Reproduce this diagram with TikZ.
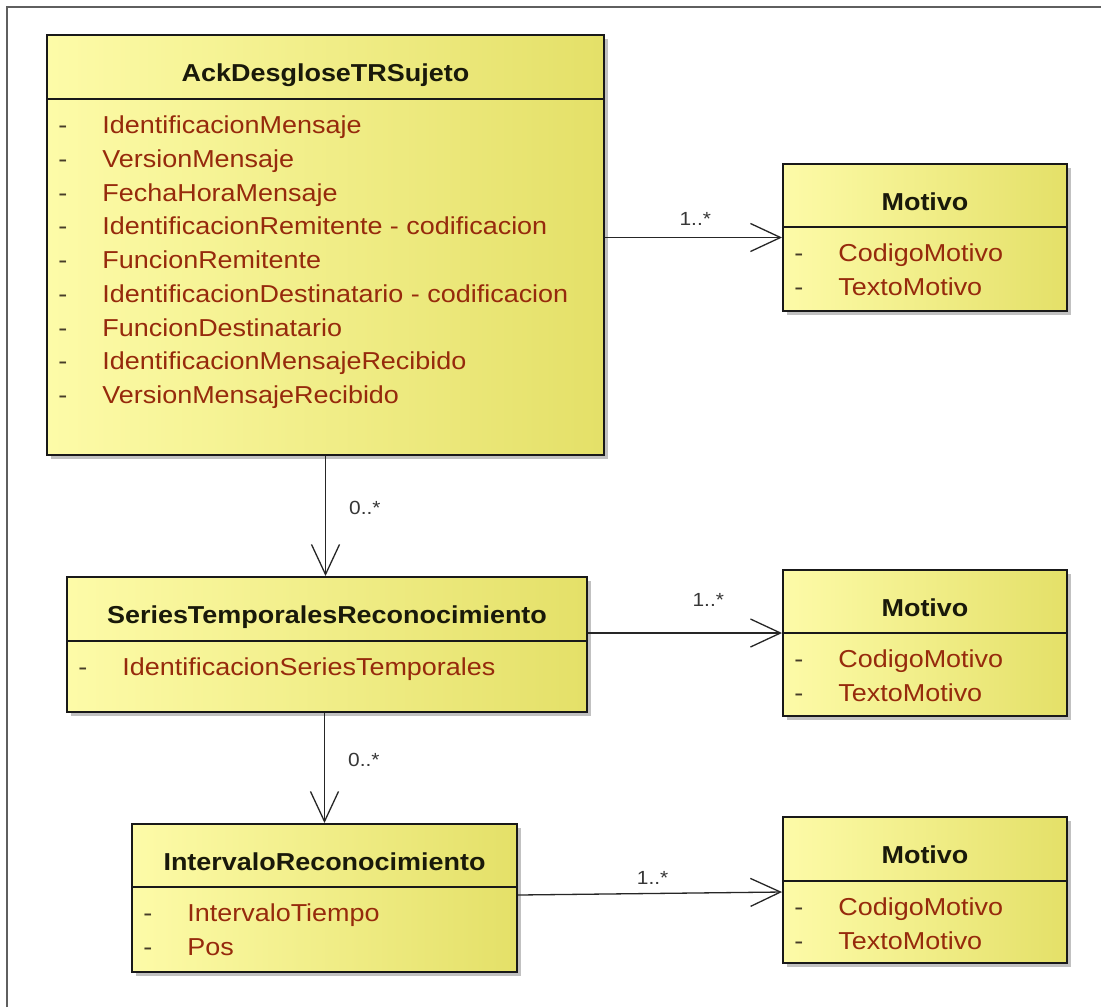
\documentclass[tikz,border=0pt]{standalone}
\usepackage{fontspec}
\setmainfont{Liberation Sans}[FakeStretch=1.1]
\usepackage{tikz}
\usetikzlibrary{positioning,arrows.meta,shadows}
\usepackage{xcolor}
\definecolor{classlight}{RGB}{253,251,168}
\definecolor{classdark}{RGB}{228,224,104}
\definecolor{attrred}{RGB}{150,42,12}
\definecolor{titleblack}{RGB}{25,25,10}
\definecolor{dashgray}{RGB}{70,60,40}
\definecolor{framegray}{RGB}{95,95,95}
\definecolor{multgray}{RGB}{55,55,55}
\newcommand{\umlattr}[1]{\makebox[22pt][l]{\textcolor{dashgray}{-}}#1}

\begin{document}
\begin{tikzpicture}[x=0.5pt,y=-0.5pt,
  classbox/.style={rectangle,draw=black!90,line width=1pt,left color=classlight,right color=classdark,
    drop shadow={shadow xshift=2.2pt,shadow yshift=-2.2pt,fill=black!30,opacity=0.8},inner sep=0pt},
  classname/.style={anchor=base,font=\fontsize{12.25}{14}\selectfont\bfseries,text=titleblack,inner sep=0pt},
  attr/.style={anchor=base west,font=\fontsize{12.25}{14}\selectfont,text=attrred,inner sep=0pt},
  sepline/.style={line width=1pt,black!90},
  mult/.style={font=\fontsize{9.5}{11}\selectfont,text=multgray,inner sep=1pt},
  assoc/.style={-{Straight Barb[length=15pt,width=14pt]},line width=0.65pt,black!85}
]
\fill[white] (0,0) rectangle (1101,1007);
\useasboundingbox (0,0) rectangle (1101,1007);
\draw[framegray,line width=1pt] (7,1007) -- (7,7) -- (1101,7);

% Top: main class
\node[classbox,minimum width=278.5pt,minimum height=210pt] (ack) at (325.5,245) {};
\draw[sepline] (ack.west |- 0,99) -- (ack.east |- 0,99);
\node[classname] (ack-name) at (325.5,81) {AckDesgloseTRSujeto};
\node[attr] (ack-a1) at (58,133.5) {\umlattr{IdentificacionMensaje}};
\node[attr] (ack-a2) at (58,167.25) {\umlattr{VersionMensaje}};
\node[attr] (ack-a3) at (58,201) {\umlattr{FechaHoraMensaje}};
\node[attr] (ack-a4) at (58,234.75) {\umlattr{IdentificacionRemitente - codificacion}};
\node[attr] (ack-a5) at (58,268.5) {\umlattr{FuncionRemitente}};
\node[attr] (ack-a6) at (58,302.25) {\umlattr{IdentificacionDestinatario - codificacion}};
\node[attr] (ack-a7) at (58,336) {\umlattr{FuncionDestinatario}};
\node[attr] (ack-a8) at (58,369.75) {\umlattr{IdentificacionMensajeRecibido}};
\node[attr] (ack-a9) at (58,403.5) {\umlattr{VersionMensajeRecibido}};

% Middle: series class
\node[classbox,minimum width=260pt,minimum height=67.5pt] (series) at (327,644.5) {};
\draw[sepline] (series.west |- 0,641) -- (series.east |- 0,641);
\node[classname] (series-name) at (327,623) {SeriesTemporalesReconocimiento};
\node[attr] (series-a1) at (78,675.5) {\umlattr{IdentificacionSeriesTemporales}};

% Bottom: interval class
\node[classbox,minimum width=192.5pt,minimum height=74pt] (int) at (324.5,898) {};
\draw[sepline] (int.west |- 0,887) -- (int.east |- 0,887);
\node[classname] (int-name) at (324.5,870) {IntervaloReconocimiento};
\node[attr] (int-a1) at (143,921.5) {\umlattr{IntervaloTiempo}};
\node[attr] (int-a2) at (143,955.25) {\umlattr{Pos}};

% Right: the three Motivo classes
\node[classbox,minimum width=142pt,minimum height=73.5pt] (mot1) at (925,237.5) {};
\draw[sepline] (mot1.west |- 0,227) -- (mot1.east |- 0,227);
\node[classname] (mot1-name) at (925,210) {Motivo};
\node[attr] (mot1-a1) at (794,261.5) {\umlattr{CodigoMotivo}};
\node[attr] (mot1-a2) at (794,295.25) {\umlattr{TextoMotivo}};

\node[classbox,minimum width=142pt,minimum height=73pt] (mot2) at (925,643) {};
\draw[sepline] (mot2.west |- 0,633) -- (mot2.east |- 0,633);
\node[classname] (mot2-name) at (925,616) {Motivo};
\node[attr] (mot2-a1) at (794,667.5) {\umlattr{CodigoMotivo}};
\node[attr] (mot2-a2) at (794,701.25) {\umlattr{TextoMotivo}};

\node[classbox,minimum width=142pt,minimum height=73pt] (mot3) at (925,890) {};
\draw[sepline] (mot3.west |- 0,881) -- (mot3.east |- 0,881);
\node[classname] (mot3-name) at (925,863) {Motivo};
\node[attr] (mot3-a1) at (794,915.5) {\umlattr{CodigoMotivo}};
\node[attr] (mot3-a2) at (794,949.25) {\umlattr{TextoMotivo}};

% Associations
\coordinate (mot2-in) at ([yshift=5pt]mot2.west);
\coordinate (int-out) at ([yshift=1.5pt]int.east);
\coordinate (mot3-in) at ([yshift=-1pt]mot3.west);
\draw[assoc] (ack.east |- mot1.west) -- node[mult,above=4.5pt,pos=0.51] {1..*} (mot1.west);
\draw[assoc] (series.east |- mot2-in) -- node[mult,above=12pt,pos=0.62] {1..*} (mot2-in);
\draw[assoc] (int-out) -- node[mult,above=3.3pt,pos=0.51] {1..*} (mot3-in);
\draw[assoc] (ack.south) -- node[mult,right=10.5pt,pos=0.43] {0..*} (ack.south |- series.north);
\draw[assoc] (int.north |- series.south) -- node[mult,right=10.5pt,pos=0.43] {0..*} (int.north);

\end{tikzpicture}
\end{document}
